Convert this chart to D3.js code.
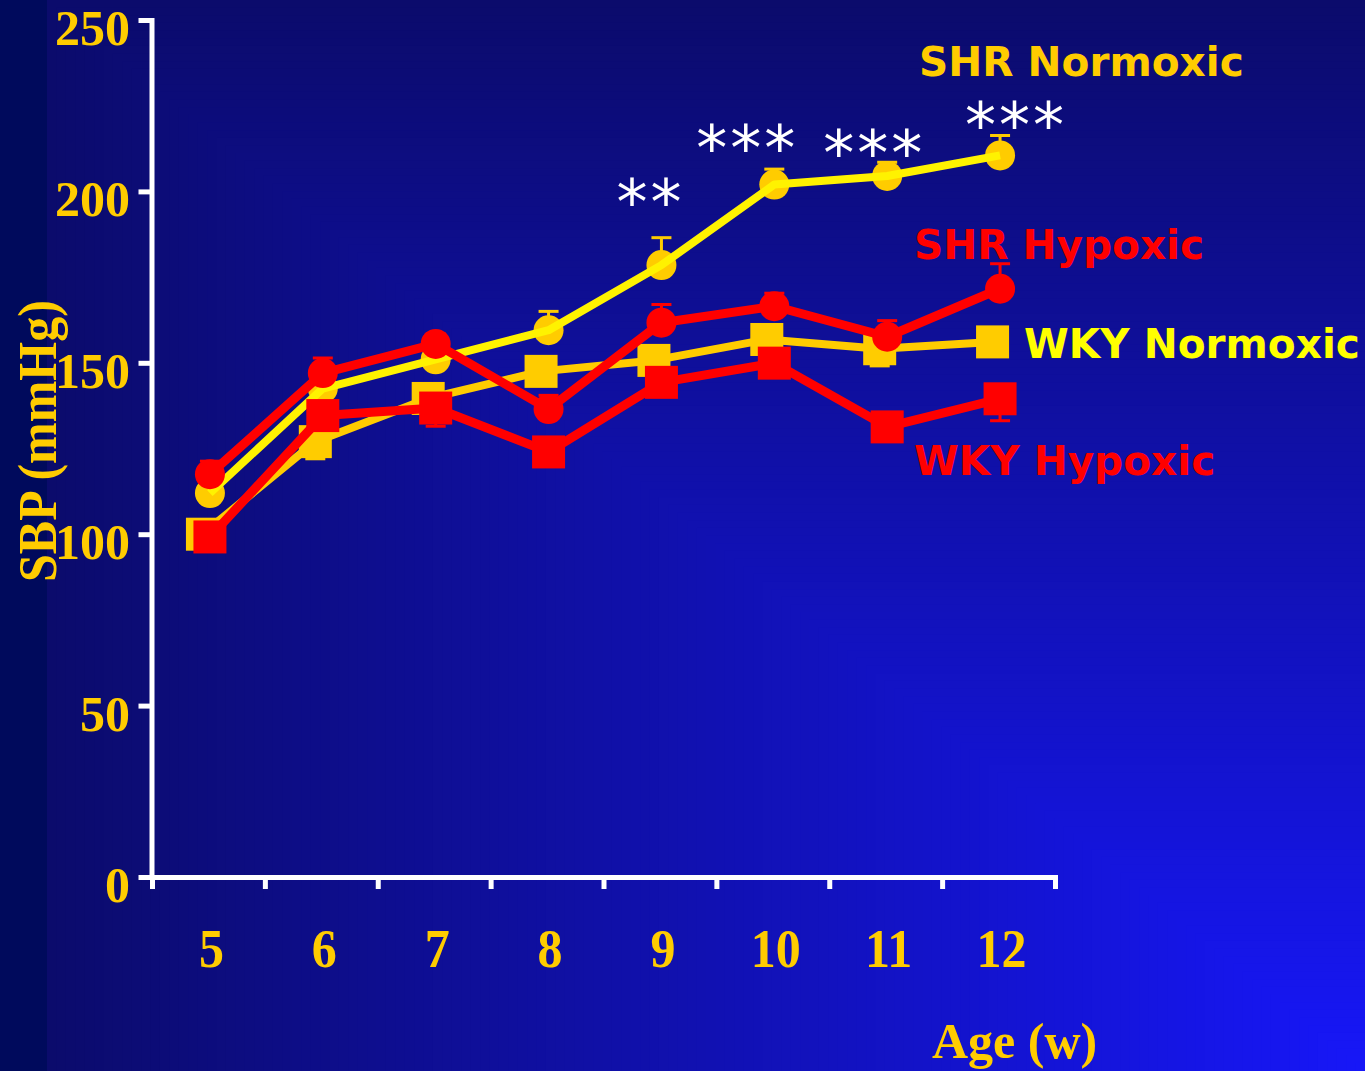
<!DOCTYPE html>
<html>
<head>
<meta charset="utf-8">
<script src="https://cdn.jsdelivr.net/npm/d3@7"></script>
<style>
  html, body { margin: 0; padding: 0; overflow: hidden; background: #0b0b6c; }
  svg { display: block; }
</style>
</head>
<body>
<svg id="chart" width="1365" height="1071"></svg>
<script>
// ---- data ---------------------------------------------------------------
const ages = [5, 6, 7, 8, 9, 10, 11, 12];            // age in weeks
const yTicks = [0, 50, 100, 150, 200, 250];          // SBP tick values (mmHg)

const shrNormoxic    = [112, 142.5, 151, 159.5, 178.5, 202, 204.5, 210.5];
const shrNormoxicErr = [3, 3, 3, 5.5, 8, 4.5, 4, 5.8];

const shrHypoxic     = [117.5, 147, 155.5, 136.5, 161.7, 166.5, 157.6, 171.6];
const shrHypoxicErr  = [3.8, 4.4, 3, 4, 5.3, 3.8, 4.7, 7.3];

const wkyNormoxic    = [100, 127, 139.6, 147.5, 150.7, 156.8, 154.1, 156.1];
const wkyNormoxicErr = [3, 5, 3, 3, 3, 3, 5, 3];

const wkyHypoxic     = [99.2, 134.6, 136.8, 124, 144.3, 149.9, 131.3, 139.5];
const wkyHypoxicErr  = [3, 3, 5.3, 3, 3, 3, 3, 6.4];

const sigAges  = [9, 10, 11, 12];                    // significance marks on SHR Normoxic
const sigMarks = ['**', '***', '***', '***'];

// ---- layout ---------------------------------------------------------------
const W = 1365, H = 1071;
const svg = d3.select('#chart');

const x = d3.scaleLinear().domain([4.5, 12.5]).range([152, 1055]);
const y = d3.scaleLinear().domain([0, 250]).range([877, 20]);

const GOLD = '#FFCC00', YELLOW = '#FFF200', LEMON = '#FFFF00', RED = '#FF0000';
const SERIF = '"Liberation Serif", "Times New Roman", serif';
const SANS = '"DejaVu Sans", Verdana, sans-serif';

// ---- background: corner gradient brightening toward bottom-right ----------
const stripW = 47;
const bgColor = d3.interpolateRgb('#1717f8', '#0b0b6c');
const steps = 140;
svg.append('g').selectAll('rect')
  .data(d3.range(steps).map(i => 1 - i / steps))
  .join('rect')
  .attr('x', s => W - s * (W - stripW))
  .attr('y', s => H - s * H)
  .attr('width', s => s * (W - stripW) + 1)
  .attr('height', s => s * H + 1)
  .attr('fill', s => bgColor(s));
svg.append('rect').attr('x', 0).attr('y', 0).attr('width', stripW).attr('height', H)
  .attr('fill', '#000a5c');

// ---- axes ------------------------------------------------------------------
const yAxis = d3.axisLeft(y).tickValues(yTicks).tickSize(13).tickSizeOuter(0).tickFormat('');
const gy = svg.append('g').attr('transform', 'translate(151.5,0)').call(yAxis);
const xAxis = d3.axisBottom(x).tickValues(d3.range(4.5, 12.6, 1)).tickSize(12).tickSizeOuter(0).tickFormat('');
const gx = svg.append('g').attr('transform', 'translate(0,877)').call(xAxis);
[gx, gy].forEach(g => {
  g.select('.domain').attr('stroke', '#fff').attr('stroke-width', 5).attr('stroke-linecap', 'square');
  g.selectAll('.tick line').attr('stroke', '#fff').attr('stroke-width', 5);
});

// bold serif labels; some are drawn slightly taller than wide
function serifText(parent, tx, ty, str, anchor, rotate, stretch) {
  return parent.append('text')
    .attr('transform', `translate(${tx},${ty})` + (rotate ? ` rotate(${rotate})` : '') +
      (stretch ? ` scale(1,${stretch})` : ''))
    .attr('text-anchor', anchor)
    .attr('font-family', SERIF).attr('font-weight', 'bold').attr('font-size', 50)
    .attr('fill', GOLD).text(str);
}
const labels = svg.append('g');
yTicks.forEach(v => serifText(labels, 130, y(v) + 25, v, 'end'));
ages.forEach(a => serifText(labels, x(a) + 3, 967, a, 'middle', 0, 1.08));
serifText(labels, 932, 1058, 'Age (w)', 'start');
serifText(labels, 56, 582, 'SBP (mmHg)', 'start', -90, 1.08);

// ---- series ------------------------------------------------------------------
function drawSeries(values, errs, opts) {
  const g = svg.append('g');
  const pts = ages.map((a, i) => ({ px: x(a) + opts.dx, v: values[i], e: errs[i] }));
  const line = d3.line().x(d => d.px).y(d => y(d.v));
  // error bars (one-sided)
  const eb = g.append('g').attr('stroke', opts.marker).attr('stroke-width', 3).attr('fill', 'none');
  pts.forEach(d => {
    const ye = y(d.v + opts.dir * d.e);
    eb.append('line').attr('x1', d.px).attr('x2', d.px).attr('y1', y(d.v)).attr('y2', ye);
    eb.append('line').attr('x1', d.px - 10).attr('x2', d.px + 10).attr('y1', ye).attr('y2', ye);
  });
  const path = () => g.append('path').datum(pts).attr('d', line)
    .attr('fill', 'none').attr('stroke', opts.line).attr('stroke-width', opts.width)
    .attr('stroke-linejoin', 'round');
  if (!opts.lineOnTop) path();
  if (opts.shape === 'circle') {
    g.append('g').selectAll('circle').data(pts).join('circle')
      .attr('cx', d => d.px).attr('cy', d => y(d.v)).attr('r', 15).attr('fill', opts.marker);
  } else {
    g.append('g').selectAll('rect').data(pts).join('rect')
      .attr('x', d => d.px - 16.5).attr('y', d => y(d.v) - 16.5)
      .attr('width', 33).attr('height', 33).attr('fill', opts.marker);
  }
  if (opts.lineOnTop) path();
}

drawSeries(wkyNormoxic, wkyNormoxicErr, { shape: 'square', line: GOLD, marker: GOLD, width: 8, dir: -1, dx: -6 });
drawSeries(shrNormoxic, shrNormoxicErr, { shape: 'circle', line: YELLOW, marker: GOLD, width: 8, dir: 1, dx: 1.5, lineOnTop: true });
drawSeries(wkyHypoxic, wkyHypoxicErr, { shape: 'square', line: RED, marker: RED, width: 9, dir: -1, dx: 1.5 });
drawSeries(shrHypoxic, shrHypoxicErr, { shape: 'circle', line: RED, marker: RED, width: 9, dir: 1, dx: 1.5 });

// ---- significance marks above SHR Normoxic ------------------------------------
const sigOffsets = [[-11, -14], [-27, 1], [-13, 13], [16, 11]];
const sig = svg.append('g').attr('fill', '#fff').attr('font-family', SANS).attr('font-size', 62)
  .attr('text-anchor', 'middle').attr('letter-spacing', 3);
sigAges.forEach((a, k) => {
  const i = ages.indexOf(a);
  sig.append('text')
    .attr('x', x(a) + sigOffsets[k][0] + 1.5)
    .attr('y', y(shrNormoxic[i] + shrNormoxicErr[i]) + sigOffsets[k][1])
    .text(sigMarks[k]);
});

// ---- series names ----------------------------------------------------------------
const names = [
  { text: 'SHR Normoxic', color: GOLD,  px: 919,  py: 76 },
  { text: 'SHR Hypoxic',  color: RED,   px: 914,  py: 259 },
  { text: 'WKY Normoxic', color: LEMON, px: 1024, py: 358 },
  { text: 'WKY Hypoxic',  color: RED,   px: 914,  py: 475 }
];
svg.append('g').selectAll('text').data(names).join('text')
  .attr('x', d => d.px).attr('y', d => d.py)
  .attr('font-family', SANS).attr('font-weight', 'bold').attr('font-size', 40.6)
  .attr('fill', d => d.color).text(d => d.text);
</script>
</body>
</html>
